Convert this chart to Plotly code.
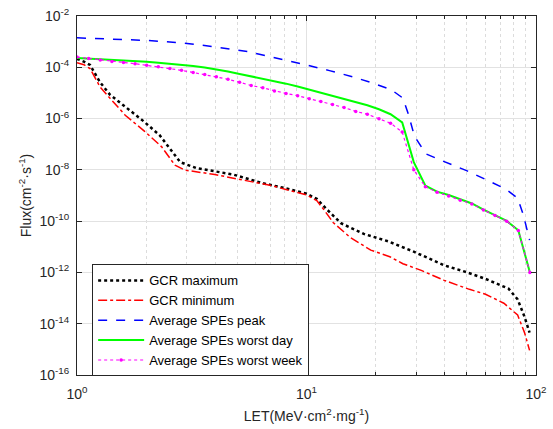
import plotly.graph_objects as go

# ---------------- data ----------------
gcr_max_let = [1.0, 1.072, 1.140, 1.259, 1.393, 1.622, 1.950, 2.291, 2.630, 2.818,
               3.311, 3.981, 4.786, 6.457, 7.943, 10.0, 11.09, 12.30, 14.13, 17.78,
               22.91, 29.51, 39.81, 50.12, 60.26, 75.86, 83.18, 89.13, 93.76]
gcr_max_flux = [2.14e-4, 1.66e-4, 1.23e-4, 2.63e-5, 8.5e-6, 2.82e-6, 7.9e-7, 2.24e-7, 4.5e-8, 2.0e-8,
                1.17e-8, 8.9e-9, 6.6e-9, 3.0e-9, 2.0e-9, 1.17e-9, 7.4e-10, 2.8e-10, 8.3e-11, 3.2e-11,
                1.58e-11, 6.3e-12, 1.9e-12, 1.0e-12, 5.6e-13, 2.34e-13, 8.9e-14, 1.86e-14, 4.5e-15]

gcr_min_let = [1.0, 1.072, 1.140, 1.259, 1.393, 1.622, 1.977, 2.339, 2.673, 2.951,
               3.981, 4.898, 7.079, 10.0, 11.09, 12.02, 13.06, 15.49, 19.05, 23.07,
               26.30, 31.62, 39.81, 51.29, 60.26, 72.44, 83.18, 89.13, 93.76]
gcr_min_flux = [1.51e-4, 1.26e-4, 8.9e-5, 1.74e-5, 6.2e-6, 1.35e-6, 3.1e-7, 7.9e-8, 1.51e-8, 9.8e-9,
                6.6e-9, 4.7e-9, 2.4e-9, 1.05e-9, 6.3e-10, 2.5e-10, 8.9e-11, 2.34e-11, 7.4e-12, 4.1e-12,
                2.19e-12, 1.2e-12, 4.9e-13, 2.19e-13, 1.41e-13, 6.3e-14, 2.19e-14, 4.5e-15, 9.1e-16]

spe_peak_let = [1.0, 1.413, 1.995, 2.818, 3.981, 5.623, 7.943, 10.0, 12.59, 15.85, 19.95, 23.44,
                26.3, 27.86, 29.51, 33.11, 39.81, 50.12, 63.1, 74.13, 83.18, 88.1, 93.76]
spe_peak_flux = [1.41e-3, 1.29e-3, 1.12e-3, 9.1e-4, 6.3e-4, 4.0e-4, 2.0e-4, 1.23e-4, 7.4e-5, 4.3e-5,
                 2.24e-5, 1.32e-5, 6.3e-6, 1.38e-6, 2.1e-7, 4.2e-8, 2.1e-8, 9.1e-9, 3.5e-9, 1.74e-9,
                 7.9e-10, 1.74e-10, 1.82e-11]

spe_let = [1.000, 1.124, 1.263, 1.419, 1.594, 1.791, 2.012, 2.261, 2.540, 2.854,
           3.207, 3.602, 4.048, 4.548, 5.110, 5.741, 6.451, 7.248, 8.144, 9.150,
           10.28, 11.55, 12.98, 14.58, 16.39, 18.41, 20.69, 23.24, 26.12, 29.34,
           32.96, 37.04, 41.62, 46.76, 52.54, 59.02, 66.32, 74.52, 83.73, 94.07]
spe_day_flux = [2.29e-4, 2.19e-4, 2.09e-4, 2.0e-4, 1.91e-4, 1.78e-4, 1.66e-4, 1.51e-4, 1.38e-4, 1.26e-4,
                1.12e-4, 9.8e-5, 8.3e-5, 6.8e-5, 5.5e-5, 4.5e-5, 3.6e-5, 2.9e-5, 2.3e-5, 1.78e-5,
                1.35e-5, 1.02e-5, 7.9e-6, 6.0e-6, 4.5e-6, 3.3e-6, 2.3e-6, 1.48e-6, 7.1e-7, 2.0e-8,
                2.4e-9, 1.41e-9, 1.05e-9, 7.2e-10, 4.9e-10, 2.8e-10, 1.66e-10, 1.02e-10, 4.4e-11, 1.0e-12]
spe_week_flux = [2.51e-4, 2.19e-4, 1.91e-4, 1.70e-4, 1.55e-4, 1.38e-4, 1.20e-4, 1.05e-4, 8.9e-5, 7.6e-5,
                 6.3e-5, 5.2e-5, 4.3e-5, 3.4e-5, 2.6e-5, 1.95e-5, 1.58e-5, 1.20e-5, 9.5e-6, 7.8e-6,
                 5.9e-6, 4.6e-6, 3.5e-6, 2.7e-6, 1.9e-6, 1.48e-6, 9.8e-7, 6.6e-7, 3.0e-7, 1.0e-8,
                 2.2e-9, 1.35e-9, 9.5e-10, 6.6e-10, 4.7e-10, 2.75e-10, 1.66e-10, 1.0e-10, 4.3e-11, 1.0e-12]

x_tick_vals = [1, 10, 100]
x_tick_text = ["10<sup>0</sup>", "10<sup>1</sup>", "10<sup>2</sup>"]
y_tick_vals = [1e-16, 1e-14, 1e-12, 1e-10, 1e-8, 1e-6, 1e-4, 1e-2]
y_tick_text = ["10<sup>-16</sup>", "10<sup>-14</sup>", "10<sup>-12</sup>", "10<sup>-10</sup>",
               "10<sup>-8</sup>", "10<sup>-6</sup>", "10<sup>-4</sup>", "10<sup>-2</sup>"]
x_minor_vals = [2, 3, 4, 5, 6, 7, 8, 9, 20, 30, 40, 50, 60, 70, 80, 90]

# ---------------- figure ----------------
fig = go.Figure()
fig.add_trace(go.Scatter(x=gcr_max_let, y=gcr_max_flux, mode="lines", name="GCR maximum",
                         line=dict(color="black", width=2.5, dash="dot")))
fig.add_trace(go.Scatter(x=gcr_min_let, y=gcr_min_flux, mode="lines", name="GCR minimum",
                         line=dict(color="#FF0000", width=1.5, dash="dashdot")))
fig.add_trace(go.Scatter(x=spe_peak_let, y=spe_peak_flux, mode="lines", name="Average SPEs peak",
                         line=dict(color="#0000FF", width=1.5, dash="dash")))
fig.add_trace(go.Scatter(x=spe_let, y=spe_day_flux, mode="lines", name="Average SPEs worst day",
                         line=dict(color="#00FF00", width=2)))
fig.add_trace(go.Scatter(x=spe_let, y=spe_week_flux, mode="lines+markers", name="Average SPEs worst week",
                         line=dict(color="#FF00FF", width=1.2, dash="dot"),
                         marker=dict(color="#FF00FF", size=3.5, symbol="circle")))

axis_color = "#262626"
font_family = "Liberation Sans, Arial, sans-serif"

fig.update_layout(
    width=553, height=429,
    margin=dict(l=77, r=17, t=16, b=54, autoexpand=False),
    paper_bgcolor="white", plot_bgcolor="white",
    font=dict(family=font_family, size=14, color=axis_color),
    showlegend=True,
    legend=dict(x=0.033, y=0.308, xanchor="left", yanchor="top",
                bgcolor="white", bordercolor=axis_color, borderwidth=1,
                font=dict(size=13, color="black"), tracegroupgap=0,
                itemwidth=46),
)
fig.update_xaxes(
    type="log", range=[0, 2], automargin=False,
    tickvals=x_tick_vals, ticktext=x_tick_text,
    ticks="inside", ticklen=5, tickcolor=axis_color, ticklabelstandoff=6,
    tickfont=dict(size=14),
    showline=True, linecolor=axis_color, linewidth=1, mirror="ticks",
    showgrid=True, gridcolor="#E2E2E2", gridwidth=1,
    minor=dict(tickvals=x_minor_vals, ticks="inside", ticklen=3, tickcolor=axis_color,
               showgrid=True, gridcolor="#DCDCDC", griddash="dot", gridwidth=1),
    title=dict(text="LET(MeV·cm<sup>2</sup>·mg<sup>-1</sup>)", font=dict(size=14), standoff=10),
    zeroline=False,
)
fig.update_yaxes(
    type="log", range=[-16, -2], automargin=False,
    tickvals=y_tick_vals, ticktext=y_tick_text,
    ticks="inside", ticklen=5, tickcolor=axis_color, ticklabelstandoff=4,
    tickfont=dict(size=14),
    showline=True, linecolor=axis_color, linewidth=1, mirror="ticks",
    showgrid=True, gridcolor="#E2E2E2", gridwidth=1,
    title=dict(text="Flux(cm<sup>-2</sup>·s<sup>-1</sup>)", font=dict(size=14), standoff=4),
    zeroline=False,
)

fig.write_html("out.html")
